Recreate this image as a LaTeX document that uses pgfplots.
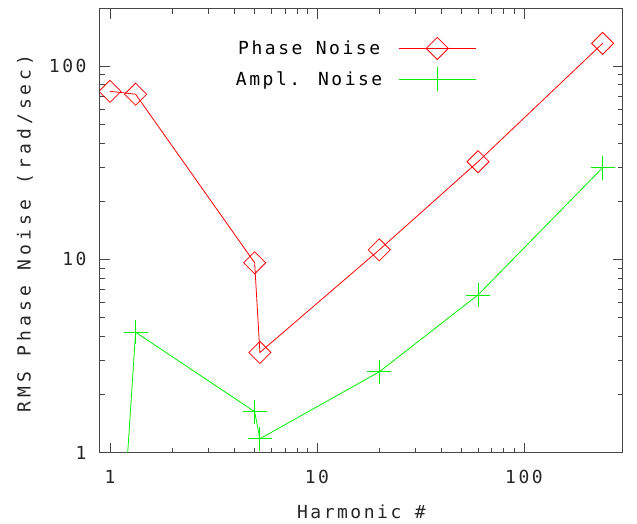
\documentclass[border=0pt]{standalone}
\usepackage{fontspec}
\setmainfont{DejaVu Sans Mono}[LetterSpace=14]
\newfontfamily\ylfont{DejaVu Sans Mono}[LetterSpace=23]
\usepackage{pgfplots}
\pgfplotsset{compat=1.18}
\definecolor{pnred}{RGB}{255,0,0}
\definecolor{pngreen}{RGB}{0,240,0}
\definecolor{axgray}{RGB}{70,70,70}

\begin{document}
\begin{tikzpicture}
\begin{axis}[
  scale only axis, width=522.7pt, height=444pt,
  xmode=log, ymode=log,
  xmin=0.895, xmax=300, ymin=1, ymax=198,
  xtick={1,10,100}, xticklabels={1,10,100},
  ytick={1,10,100}, yticklabels={1,10,100},
  /pgf/number format/assume math mode=true,
  tick align=inside, major tick length=10pt, minor tick length=5pt,
  axis line style={axgray, line width=1pt},
  every tick/.style={axgray, line width=0.8pt},
  tick label style={font=\fontsize{18}{20}\selectfont, text=black!85},
  xticklabel style={yshift=-14pt},
  yticklabel style={xshift=-10pt},
  label style={font=\fontsize{18}{20}\selectfont, text=black!85},
  xlabel={Harmonic \#},
  ylabel={RMS Phase Noise (rad/sec)},
  xlabel style={at={(axis description cs:0.5,0)}, anchor=center, yshift=-59.3pt},
  ylabel style={at={(axis description cs:-0.1435,0.4945)}, anchor=center,
    font=\ylfont\fontsize{18}{20}\selectfont},
  clip marker paths=true,
  legend plot pos=right,
  legend image code/.code={\draw[mark repeat=2,mark phase=2,#1] plot coordinates {(0pt,0pt) (38.5pt,0pt) (77pt,0pt)};},
  legend style={draw=none, fill=none, font=\fontsize{18}{20}\selectfont,
    at={(axis description cs:0.7257,0.9403)}, anchor=north east, row sep=8pt, column sep=14pt},
]
\addplot[pnred, line width=0.8pt, mark=square, mark size=7.8pt, mark options={rotate=45, line width=0.8pt}] coordinates {
 (1,74) (1.33,71.5) (5.0,9.6) (5.3,3.3) (20,11.2) (60,32) (240,131)};
\addlegendentry{Phase Noise}
\addplot[pngreen, line width=0.8pt, mark=+, mark size=12pt, mark options={line width=0.8pt}] coordinates {
 (1,0.04) (1.33,4.2) (5.0,1.63) (5.3,1.18) (20,2.62) (60,6.55) (240,29.8)};
\addlegendentry{Ampl. Noise}
\end{axis}
\path ([shift={(-100pt,-71.3pt)}]current axis.south west) rectangle ([shift={(14.3pt,8.7pt)}]current axis.north east);
\end{tikzpicture}
\end{document}
